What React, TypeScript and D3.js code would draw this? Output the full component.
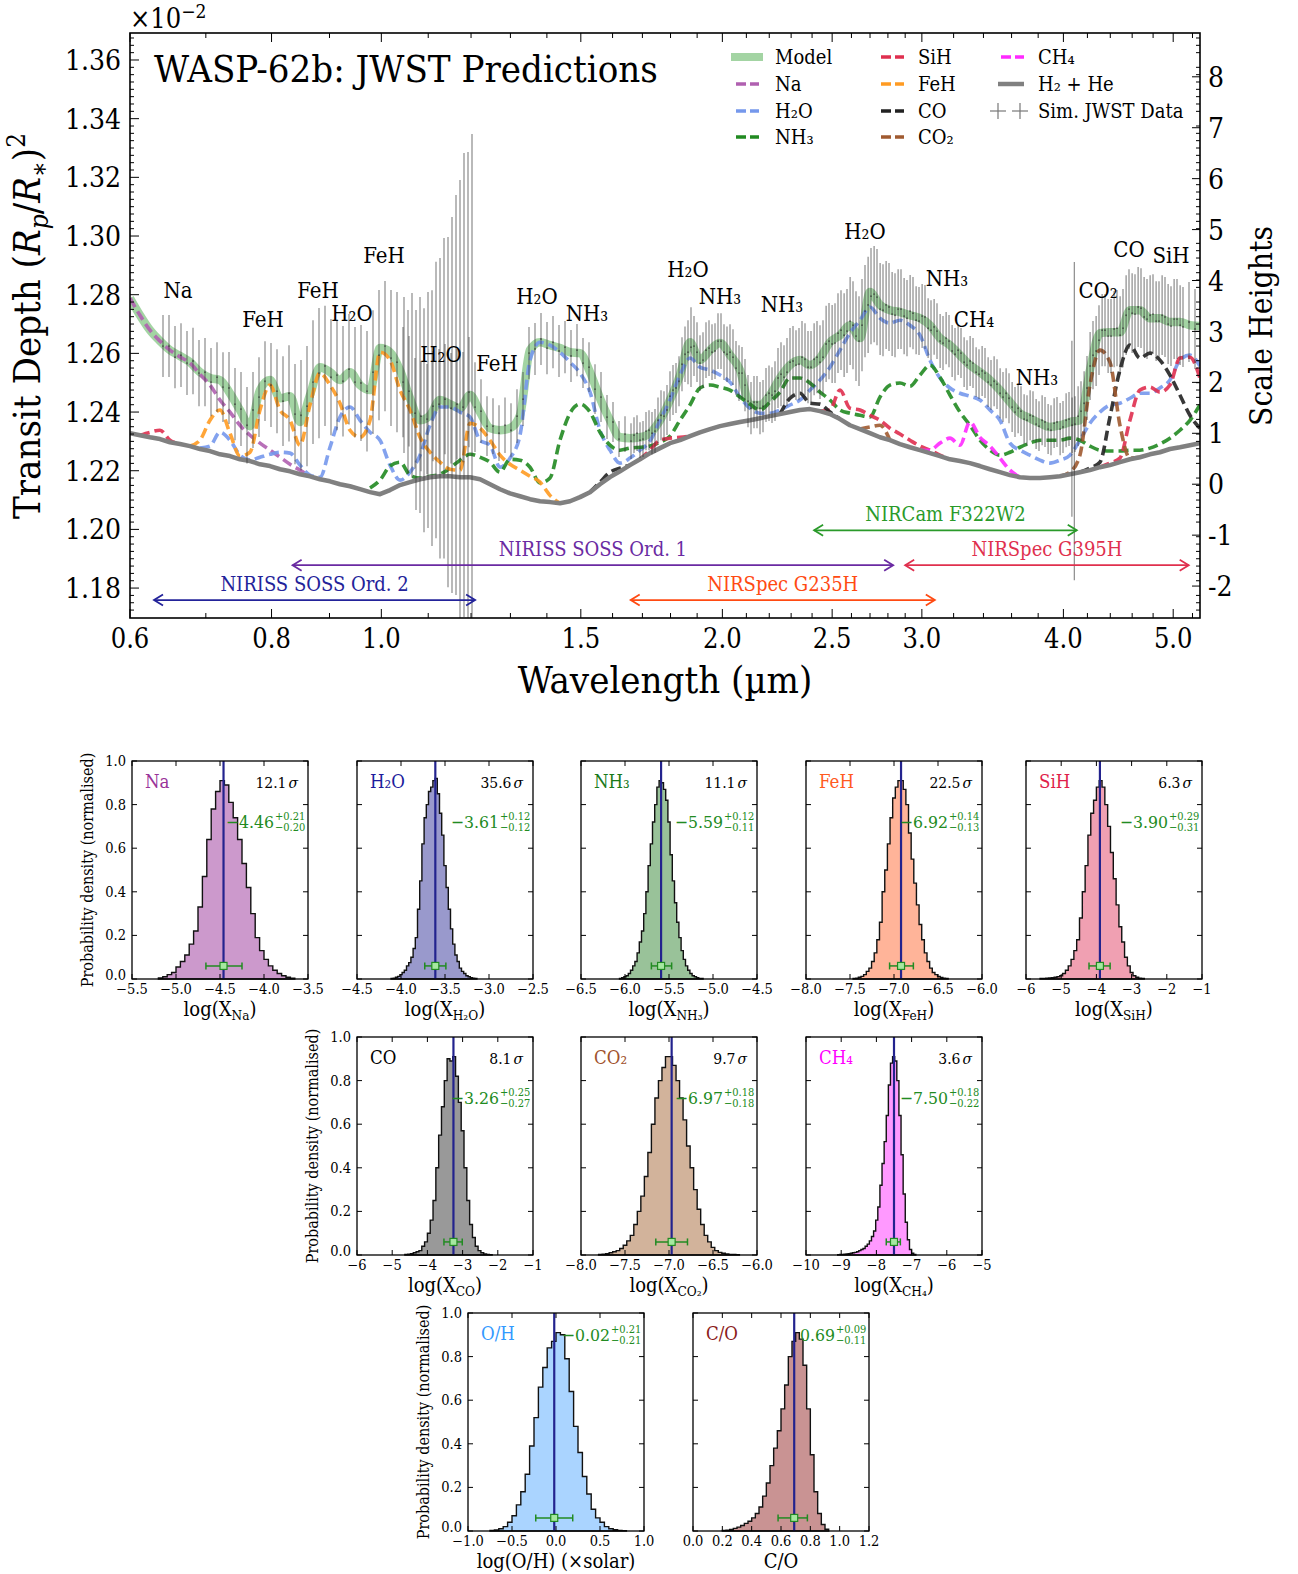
import React from "react";
import * as d3 from "d3";

const FONT = "'DejaVu Serif Condensed', 'DejaVu Serif', serif";
const _ = null;

// ---------- main spectrum: shared wavelength grid (µm) ----------
const wavelength = [
  0.6000,0.6123,0.6249,0.6377,0.6508,0.6642,0.6778,0.6917,0.7059,0.7204,
  0.7352,0.7503,0.7657,0.7814,0.7975,0.8139,0.8306,0.8476,0.8650,0.8828,
  0.9009,0.9194,0.9383,0.9576,0.9773,0.9973,1.0178,1.0387,1.0600,1.0818,
  1.1040,1.1267,1.1498,1.1734,1.1975,1.2221,1.2472,1.2728,1.2989,1.3256,
  1.3528,1.3806,1.4089,1.4378,1.4674,1.4975,1.5282,1.5596,1.5916,1.6243,
  1.6576,1.6917,1.7264,1.7618,1.7980,1.8349,1.8726,1.9110,1.9503,1.9903,
  2.0312,2.0729,2.1154,2.1589,2.2032,2.2484,2.2946,2.3417,2.3898,2.4388,
  2.4889,2.5400,2.5921,2.6453,2.6996,2.7551,2.8116,2.8694,2.9283,2.9884,
  3.0497,3.1124,3.1763,3.2415,3.3080,3.3760,3.4453,3.5160,3.5882,3.6619,
  3.7370,3.8138,3.8921,3.9720,4.0535,4.1367,4.2217,4.3083,4.3968,4.4871,
  4.5792,4.6732,4.7691,4.8670,4.9670,5.0689,5.1730,5.2792,
];

// transit depth (x10^-2)
const depthH2He = [
  1.2328,1.2321,1.2314,1.2308,1.2297,1.2291,1.2284,1.2274,1.2267,1.2256,
  1.2250,1.2239,1.2233,1.2222,1.2216,1.2205,1.2198,1.2188,1.2181,1.2171,
  1.2164,1.2154,1.2147,1.2137,1.2127,1.2120,1.2134,1.2151,1.2161,1.2171,
  1.2178,1.2181,1.2181,1.2178,1.2178,1.2171,1.2154,1.2137,1.2123,1.2113,
  1.2103,1.2096,1.2093,1.2089,1.2096,1.2110,1.2127,1.2154,1.2178,1.2198,
  1.2219,1.2239,1.2260,1.2277,1.2294,1.2304,1.2318,1.2331,1.2342,1.2352,
  1.2359,1.2366,1.2372,1.2379,1.2386,1.2393,1.2400,1.2407,1.2410,1.2403,
  1.2393,1.2376,1.2355,1.2342,1.2328,1.2314,1.2304,1.2291,1.2280,1.2270,
  1.2260,1.2250,1.2239,1.2233,1.2226,1.2216,1.2205,1.2195,1.2185,1.2178,
  1.2175,1.2175,1.2178,1.2181,1.2188,1.2195,1.2202,1.2212,1.2219,1.2229,
  1.2239,1.2246,1.2256,1.2263,1.2274,1.2280,1.2287,1.2294,
];

const depthModel = [
  1.2788,1.2730,1.2679,1.2642,1.2611,1.2591,1.2570,1.2536,1.2516,1.2509,
  1.2464,1.2407,1.2352,1.2475,1.2509,1.2447,1.2454,1.2366,1.2458,1.2553,
  1.2536,1.2509,1.2536,1.2492,1.2475,1.2618,1.2604,1.2543,1.2447,1.2372,
  1.2389,1.2441,1.2427,1.2413,1.2458,1.2400,1.2345,1.2338,1.2345,1.2389,
  1.2611,1.2638,1.2628,1.2618,1.2604,1.2601,1.2536,1.2447,1.2372,1.2314,
  1.2311,1.2314,1.2328,1.2372,1.2441,1.2526,1.2638,1.2577,1.2611,1.2635,
  1.2594,1.2543,1.2424,1.2424,1.2458,1.2516,1.2560,1.2577,1.2560,1.2584,
  1.2638,1.2662,1.2696,1.2652,1.2809,1.2765,1.2747,1.2741,1.2730,1.2720,
  1.2696,1.2652,1.2628,1.2594,1.2560,1.2536,1.2509,1.2475,1.2434,1.2396,
  1.2379,1.2362,1.2349,1.2355,1.2366,1.2372,1.2543,1.2669,1.2672,1.2672,
  1.2747,1.2747,1.2720,1.2720,1.2707,1.2707,1.2696,1.2693,
];

const depthNa = [
  1.2788,1.2730,1.2679,1.2642,1.2611,1.2588,1.2567,1.2529,1.2492,1.2441,
  1.2400,1.2355,1.2321,1.2294,1.2270,1.2246,1.2222,1.2202,1.2181,_,
  _,_,_,_,_,_,_,_,_,_, _,_,_,_,_,_,_,_,_,_, _,_,_,_,_,_,_,_,_,_,
  _,_,_,_,_,_,_,_,_,_, _,_,_,_,_,_,_,_,_,_, _,_,_,_,_,_,_,_,_,_,
  _,_,_,_,_,_,_,_,_,_, _,_,_,_,_,_,_,_,_,_, _,_,_,_,_,_,_,_,
];

const depthFeH = [
  _,_,_,_,_,_,1.2284,1.2304,1.2372,1.2407,
  1.2328,1.2250,1.2263,1.2407,1.2492,1.2407,1.2372,1.2287,1.2424,1.2533,
  1.2492,1.2430,1.2338,1.2314,1.2372,1.2604,1.2577,1.2475,1.2407,1.2314,
  1.2263,1.2229,1.2205,1.2202,1.2362,1.2345,1.2304,1.2253,1.2222,1.2202,
  1.2181,1.2161,1.2116,1.2089,_,_,_,_,_,_,
  _,_,_,_,_,_,_,_,_,_, _,_,_,_,_,_,_,_,_,_, _,_,_,_,_,_,_,_,_,_,
  _,_,_,_,_,_,_,_,_,_, _,_,_,_,_,_,_,_,_,_, _,_,_,_,_,_,_,_,
];

const depthH2O = [
  _,_,_,_,_,_,_,1.2277,1.2284,1.2331,
  1.2304,1.2253,1.2236,1.2246,1.2256,1.2263,1.2260,1.2219,1.2185,1.2178,
  1.2280,1.2383,1.2417,1.2372,1.2331,1.2304,1.2219,1.2168,1.2195,1.2253,
  1.2355,1.2417,1.2417,1.2400,1.2383,1.2304,1.2287,1.2212,1.2243,1.2321,
  1.2577,1.2638,1.2628,1.2604,1.2570,1.2533,1.2468,1.2338,1.2270,1.2226,
  1.2243,1.2270,1.2301,1.2372,1.2441,1.2526,1.2584,1.2553,1.2543,1.2526,
  1.2502,1.2451,1.2413,1.2396,1.2396,1.2407,1.2424,1.2441,1.2475,1.2509,
  1.2553,1.2611,1.2669,1.2713,1.2758,1.2720,1.2703,1.2713,1.2696,1.2662,
  1.2577,1.2516,1.2482,1.2464,1.2454,1.2441,1.2407,1.2372,1.2294,1.2270,
  1.2253,1.2236,1.2226,1.2236,1.2253,1.2304,1.2362,1.2400,1.2424,1.2430,
  1.2447,1.2464,1.2464,1.2482,1.2509,1.2577,1.2594,1.2557,
];

const depthNH3 = [
  _,_,_,_,_,_,_,_,_,_, _,_,_,_,_,_,_,_,_,_,
  _,_,_,_,1.2141,1.2168,1.2216,1.2229,1.2185,1.2175,
  1.2181,1.2188,1.2209,1.2236,1.2256,1.2246,1.2229,1.2195,1.2239,1.2236,
  1.2212,1.2158,1.2175,1.2304,1.2396,1.2427,1.2400,1.2331,1.2287,1.2270,
  1.2277,1.2280,1.2284,1.2297,1.2318,1.2372,1.2424,1.2482,1.2492,1.2485,
  1.2475,1.2451,1.2427,1.2407,1.2434,1.2468,1.2516,1.2516,1.2499,1.2468,
  1.2441,1.2407,1.2396,1.2389,1.2383,1.2451,1.2492,1.2499,1.2488,1.2526,
  1.2560,1.2519,1.2458,1.2400,1.2355,1.2304,1.2270,1.2253,1.2263,1.2280,
  1.2294,1.2304,1.2304,1.2304,1.2311,1.2304,1.2284,1.2270,1.2267,1.2267,
  1.2270,1.2270,1.2277,1.2291,1.2311,1.2338,1.2372,1.2424,
];

const depthSiH = [
  _,1.2321,1.2331,1.2338,1.2304,1.2291,_,_,_,_,
  _,_,_,_,_,_,_,_,_,_, _,_,_,_,_,_,_,_,_,_, _,_,_,_,_,_,_,_,_,_, _,_,_,_,_,_,_,_,_,_,
  _,1.2239,1.2270,1.2304,1.2311,1.2314,1.2318,_,_,_,
  _,_,_,_,_,_,_,_,_,1.2403,
  1.2407,1.2475,1.2413,1.2407,1.2389,1.2372,1.2345,1.2325,1.2304,1.2284,
  1.2270,1.2253,1.2239,_,_,_,_,_,_,_,
  _,_,_,_,_,_,_,1.2212,1.2226,1.2243,
  1.2372,1.2475,1.2485,1.2468,1.2492,1.2584,1.2587,1.2516,
];

const depthCO = [
  _,_,_,_,_,_,_,_,_,_, _,_,_,_,_,_,_,_,_,_, _,_,_,_,_,_,_,_,_,_, _,_,_,_,_,_,_,_,_,_,
  _,_,_,_,_,_,1.2127,1.2161,1.2195,1.2209,
  1.2219,_,_,_,_,_,_,_,_,_,
  _,_,_,_,_,1.2393,1.2447,1.2464,1.2430,1.2427,
  1.2400,1.2376,_,_,_,_,_,_,_,_,
  _,_,_,_,_,_,_,_,_,_,
  _,_,_,_,_,1.2195,1.2209,1.2229,1.2383,1.2543,
  1.2628,1.2584,1.2601,1.2577,1.2526,1.2458,1.2389,1.2345,
];

const depthCO2 = [
  _,_,_,_,_,_,_,_,_,_, _,_,_,_,_,_,_,_,_,_, _,_,_,_,_,_,_,_,_,_, _,_,_,_,_,_,_,_,_,_,
  _,_,_,_,_,_,_,_,_,_, _,_,_,_,_,_,_,_,_,_, _,_,_,_,_,_,_,_,_,_,
  _,_,_,1.2342,1.2349,1.2355,1.2304,_,_,_,
  _,_,_,_,_,_,_,_,_,_,
  _,_,_,1.2181,1.2195,1.2253,1.2492,1.2611,1.2570,1.2355,
  1.2243,1.2246,_,_,_,_,_,_,
];

const depthCH4 = [
  _,_,_,_,_,_,_,_,_,_, _,_,_,_,_,_,_,_,_,_, _,_,_,_,_,_,_,_,_,_, _,_,_,_,_,_,_,_,_,_,
  _,_,_,_,_,_,_,_,_,_, _,_,_,_,_,_,_,_,_,_, _,_,_,_,_,_,_,_,_,_,
  _,_,_,_,_,_,_,_,_,1.2270,
  1.2270,1.2294,1.2311,1.2287,1.2366,1.2314,1.2284,1.2243,1.2202,1.2178,
  _,_,_,_,_,_,_,_,_,_, _,_,_,_,_,_,_,_,
];

// ---------- simulated JWST data ----------
const dataWl = [
  0.6416,0.6495,0.6575,0.6655,0.6737,0.6820,0.6903,0.6988,0.7074,0.7161,
  0.7248,0.7337,0.7427,0.7518,0.7611,0.7704,0.7799,0.7894,0.7991,0.8089,
  0.8189,0.8289,0.8391,0.8494,0.8598,0.8703,0.8810,0.8918,0.9028,0.9138,
  0.9250,0.9364,0.9479,0.9595,0.9713,0.9832,0.9953,1.0075,1.0199,1.0324,
  1.0451,1.0579,1.0709,1.0840,1.0973,1.1108,1.1244,1.1382,1.1522,1.1663,
  1.1806,1.1951,1.2098,1.2246,1.2396,1.2548,1.2702,1.2858,1.3016,1.3176,
  1.3337,1.3501,1.3667,1.3834,1.4004,1.4176,1.4350,1.4526,1.4704,1.4884,
  1.5067,1.5252,1.5439,1.5628,1.5820,1.6014,1.6211,1.6410,1.6611,1.6815,
  1.7021,1.7230,1.7441,1.7655,1.7872,1.8091,1.8313,1.8538,1.8765,1.8996,
  1.9229,1.9465,1.9704,1.9945,2.0190,2.0438,2.0689,2.0942,2.1199,2.1459,
  2.1723,2.1989,2.2259,2.2532,2.2809,2.3088,2.3372,2.3658,2.3949,2.4243,
  2.4540,2.4841,2.5146,2.5455,2.5767,2.6083,2.6403,2.6727,2.7055,2.7387,
  2.7723,2.8063,2.8407,2.8756,2.9108,2.9466,2.9827,3.0193,3.0564,3.0939,
  3.1318,3.1702,3.2091,3.2485,3.2884,3.3287,3.3696,3.4109,3.4528,3.4951,
  3.5380,3.5814,3.6254,3.6698,3.7149,3.7605,3.8066,3.8533,3.9006,3.9484,
  3.9969,4.0459,4.0955,4.1458,4.1967,4.2482,4.3003,4.3530,4.4065,4.4605,
  4.5153,4.5707,4.6267,4.6835,4.7410,4.7991,4.8580,4.9176,4.9780,5.0390,
  5.1009,5.1635,5.2268,
];
const dataDepth = [
  1.2625,1.2625,1.2587,1.2594,1.2567,1.2574,1.2533,1.2536,1.2502,1.2519,
  1.2485,1.2482,1.2427,1.2410,1.2355,1.2407,1.2451,1.2505,1.2492,1.2471,
  1.2437,1.2464,1.2393,1.2389,1.2420,1.2502,1.2533,1.2557,1.2519,1.2526,
  1.2505,1.2546,1.2502,1.2499,1.2471,1.2536,1.2594,1.2625,1.2584,1.2570,
  1.2502,1.2471,1.2396,1.2386,1.2376,1.2420,1.2427,1.2444,1.2413,1.2427,
  1.2417,1.2468,1.2417,1.2403,1.2352,1.2352,1.2328,1.2355,1.2338,1.2386,
  1.2444,1.2601,1.2615,1.2649,1.2618,1.2638,1.2608,1.2621,1.2591,1.2611,
  1.2567,1.2553,1.2478,1.2451,1.2383,1.2366,1.2308,1.2325,1.2301,1.2328,
  1.2308,1.2338,1.2335,1.2389,1.2407,1.2475,1.2505,1.2597,1.2621,1.2604,
  1.2577,1.2618,1.2608,1.2642,1.2597,1.2587,1.2533,1.2492,1.2413,1.2434,
  1.2420,1.2464,1.2471,1.2529,1.2536,1.2574,1.2563,1.2580,1.2553,1.2587,
  1.2587,1.2642,1.2635,1.2679,1.2676,1.2696,1.2642,1.2744,1.2795,1.2792,
  1.2747,1.2758,1.2730,1.2751,1.2720,1.2737,1.2710,1.2724,1.2679,1.2676,
  1.2635,1.2642,1.2597,1.2601,1.2560,1.2567,1.2529,1.2533,1.2492,1.2495,
  1.2451,1.2447,1.2400,1.2403,1.2372,1.2386,1.2352,1.2366,1.2338,1.2366,
  1.2349,1.2376,1.2359,1.2403,1.2482,1.2594,1.2645,1.2679,1.2659,1.2686,
  1.2686,1.2751,1.2734,1.2754,1.2717,1.2734,1.2710,1.2724,1.2693,1.2717,
  1.2690,1.2707,1.2683,
];
const dataErr = [
  0.0106,0.0106,0.0106,0.0109,0.0109,0.0113,0.0113,0.0116,0.0116,0.0119,
  0.0119,0.0123,0.0123,0.0126,0.0130,0.0130,0.0136,0.0136,0.0143,0.0143,
  0.0153,0.0164,0.0171,0.0188,0.0205,0.0211,0.0222,0.0205,0.0198,0.0188,
  0.0188,0.0188,0.0188,0.0198,0.0205,0.0211,0.0222,0.0222,0.0232,0.0239,
  0.0188,0.0188,0.0188,0.0188,0.0188,0.0188,0.0188,0.0188,0.0188,0.0188,
  0.0188,0.0188,0.0153,0.0109,0.0102,0.0095,0.0095,0.0095,0.0092,0.0092,
  0.0092,0.0089,0.0089,0.0089,0.0089,0.0089,0.0089,0.0089,0.0089,0.0089,
  0.0085,0.0085,0.0085,0.0085,0.0075,0.0068,0.0061,0.0061,0.0061,0.0061,
  0.0061,0.0068,0.0075,0.0085,0.0085,0.0085,0.0085,0.0095,0.0136,0.0102,
  0.0095,0.0095,0.0095,0.0095,0.0095,0.0095,0.0095,0.0089,0.0089,0.0089,
  0.0089,0.0095,0.0102,0.0109,0.0116,0.0119,0.0123,0.0123,0.0123,0.0123,
  0.0126,0.0130,0.0136,0.0136,0.0143,0.0150,0.0153,0.0157,0.0164,0.0164,
  0.0157,0.0150,0.0143,0.0136,0.0130,0.0123,0.0116,0.0109,0.0102,0.0095,
  0.0092,0.0089,0.0089,0.0085,0.0085,0.0085,0.0085,0.0085,0.0085,0.0085,
  0.0085,0.0085,0.0085,0.0085,0.0085,0.0085,0.0085,0.0085,0.0085,0.0085,
  0.0089,0.0092,0.0095,0.0102,0.0109,0.0116,0.0119,0.0123,0.0126,0.0130,
  0.0133,0.0136,0.0136,0.0136,0.0136,0.0136,0.0136,0.0136,0.0136,0.0136,
  0.0136,0.0136,0.0136,
];
// NIRSpec points (overlapping instruments, 1.67–5.07 µm)
const nirspecWl = [
  1.6712,1.6917,1.7125,1.7335,1.7548,1.7763,1.7981,1.8202,1.8425,1.8651,
  1.8880,1.9112,1.9346,1.9584,1.9824,2.0067,2.0314,2.0563,2.0815,2.1071,
  2.1329,2.1591,2.1856,2.2124,2.2396,2.2671,2.2949,2.3231,2.3516,2.3804,
  2.4097,2.4392,2.4692,2.4995,2.5301,2.5612,2.5926,2.6244,2.6566,2.6893,
  2.7223,2.7557,2.7895,2.8237,2.8584,2.8935,2.9290,2.9649,3.0013,3.0381,
  3.0754,3.1131,3.1513,3.1900,3.2291,3.2688,3.3089,3.3495,3.3906,3.4322,
  3.4743,3.5169,3.5601,3.6038,3.6480,3.6928,3.7381,3.7840,3.8304,3.8774,
  3.9250,3.9732,4.0219,4.0713,4.1212,4.1718,4.2230,4.2748,4.3273,4.3804,
  4.4341,4.4885,4.5436,4.5994,4.6558,4.7129,4.7708,4.8293,4.8886,4.9486,
  5.0093,5.0708,
];
const nirspecDepth = [
  1.2321,1.2304,1.2335,1.2328,1.2372,1.2386,1.2454,1.2482,1.2563,1.2604,
  1.2625,1.2567,1.2611,1.2604,1.2642,1.2604,1.2604,1.2550,1.2533,1.2437,
  1.2434,1.2413,1.2458,1.2458,1.2516,1.2519,1.2570,1.2560,1.2587,1.2553,
  1.2580,1.2570,1.2632,1.2632,1.2669,1.2662,1.2710,1.2659,1.2696,1.2765,
  1.2802,1.2751,1.2765,1.2734,1.2751,1.2727,1.2744,1.2713,1.2727,1.2686,
  1.2690,1.2642,1.2652,1.2608,1.2611,1.2570,1.2574,1.2536,1.2540,1.2502,
  1.2505,1.2464,1.2464,1.2417,1.2413,1.2376,1.2389,1.2359,1.2372,1.2342,
  1.2362,1.2342,1.2372,1.2355,1.2386,1.2430,1.2557,1.2608,1.2679,1.2659,
  1.2683,1.2662,1.2730,1.2737,1.2758,1.2724,1.2730,1.2710,1.2730,1.2700,
  1.2717,1.2696,
];
const nirspecErr = [
  0.0061,0.0061,0.0065,0.0072,0.0078,0.0085,0.0085,0.0085,0.0092,0.0109,
  0.0102,0.0095,0.0095,0.0095,0.0095,0.0095,0.0095,0.0092,0.0089,0.0089,
  0.0089,0.0089,0.0092,0.0095,0.0102,0.0109,0.0116,0.0119,0.0123,0.0123,
  0.0123,0.0126,0.0130,0.0133,0.0136,0.0143,0.0150,0.0153,0.0157,0.0164,
  0.0164,0.0157,0.0150,0.0143,0.0136,0.0130,0.0123,0.0116,0.0109,0.0102,
  0.0095,0.0092,0.0089,0.0089,0.0085,0.0085,0.0085,0.0085,0.0085,0.0085,
  0.0085,0.0085,0.0085,0.0085,0.0085,0.0085,0.0085,0.0085,0.0085,0.0085,
  0.0085,0.0089,0.0092,0.0095,0.0102,0.0109,0.0116,0.0119,0.0123,0.0126,
  0.0130,0.0133,0.0136,0.0136,0.0136,0.0136,0.0136,0.0136,0.0136,0.0136,
  0.0136,0.0136,
];
// NIRISS order-2 red end (large uncertainties)
const ord2Wl = [1.0472,1.0557,1.0643,1.0730,1.0818,1.0906,1.0995,1.1085,1.1176,1.1267,1.1359,1.1451,1.1545,1.1639,1.1734,1.1830,1.1926,1.2024];
const ord2Depth = [1.2526,1.2468,1.2492,1.2407,1.2424,1.2372,1.2407,1.2379,1.2441,1.2413,1.2447,1.2400,1.2424,1.2458,1.2434,1.2492,1.2468,1.2516];
const ord2Err = [0.0266,0.0280,0.0314,0.0341,0.0368,0.0382,0.0402,0.0436,0.0471,0.0512,0.0546,0.0597,0.0641,0.0682,0.0757,0.0791,0.0818,0.0832];
// detector-edge points near 4.1 µm
const edgeWl = [4.07, 4.09];
const edgeDepth = [1.2343, 1.2369];
const edgeErr = [0.0300, 0.0542];

// ---------- annotations ----------
const featureText = ["Na","FeH","FeH","H₂O","FeH","H₂O","FeH","H₂O","NH₃","H₂O","NH₃","NH₃","H₂O","NH₃","CH₄","NH₃","CO₂","CO","SiH"];
const featureWl = [0.6615,0.7862,0.8793,0.9422,1.0054,1.1290,1.2650,1.3722,1.5190,1.8652,1.9905,2.2578,2.6726,3.1574,3.3355,3.7912,4.2917,4.5707,4.9781];
const featureDepth = [1.2816,1.2717,1.2816,1.2737,1.2935,1.2598,1.2567,1.2795,1.2737,1.2887,1.2795,1.2768,1.3017,1.2857,1.2717,1.2519,1.2816,1.2956,1.2935];

const instNames = ["NIRISS SOSS Ord. 2","NIRISS SOSS Ord. 1","NIRSpec G235H","NIRCam F322W2","NIRSpec G395H"];
const instFrom = [0.63, 0.835, 1.66, 2.41, 2.90];
const instTo = [1.21, 2.83, 3.08, 4.11, 5.16];
const instDepth = [1.1759, 1.1878, 1.1759, 1.1997, 1.1878];

const xMajor = [0.6,0.8,1.0,1.5,2.0,2.5,3.0,4.0,5.0];
const xMinor = [0.7,0.9,1.1,1.2,1.3,1.4,1.6,1.7,1.8,1.9,2.1,2.2,2.3,2.4,2.6,2.7,2.8,2.9,3.2,3.4,3.6,3.8,4.2,4.4,4.6,4.8,5.2];
const yMajor = [1.18,1.20,1.22,1.24,1.26,1.28,1.30,1.32,1.34,1.36];
const shMajor = [-2,-1,0,1,2,3,4,5,6,7,8];

// ---------- retrieved posteriors (normalised histograms) ----------
const naStart = -5.20, naBin = 0.05;
const naHeights = [0.005,0.01,0.02,0.03,0.055,0.08,0.11,0.16,0.22,0.33,0.47,0.64,0.78,0.86,0.91,0.89,0.81,0.74,0.64,0.53,0.42,0.30,0.19,0.13,0.09,0.06,0.04,0.025,0.015,0.008,0.004];
const h2oStart = -4.1125, h2oBin = 0.025;
const h2oHeights = [0.002,0.004,0.008,0.012,0.02,0.03,0.04,0.06,0.075,0.10,0.14,0.19,0.32,0.45,0.62,0.74,0.80,0.86,0.88,0.91,0.92,0.85,0.76,0.66,0.52,0.42,0.32,0.23,0.16,0.11,0.08,0.05,0.035,0.025,0.015,0.01,0.006,0.004,0.002];
const nh3Start = -6.0625, nh3Bin = 0.025;
const nh3Heights = [0.003,0.006,0.01,0.015,0.025,0.04,0.06,0.08,0.12,0.17,0.22,0.30,0.40,0.52,0.62,0.72,0.80,0.88,0.91,0.90,0.87,0.82,0.72,0.57,0.45,0.35,0.26,0.19,0.13,0.09,0.06,0.04,0.025,0.015,0.01,0.006,0.003,0.002];
const fehStart = -7.465, fehBin = 0.03;
const fehHeights = [0.002,0.004,0.008,0.012,0.02,0.035,0.05,0.08,0.12,0.18,0.26,0.40,0.50,0.62,0.74,0.83,0.88,0.91,0.91,0.87,0.80,0.67,0.55,0.44,0.34,0.25,0.18,0.12,0.08,0.05,0.03,0.02,0.012,0.007,0.004,0.002];
const sihStart = -5.60, sihBin = 0.08;
const sihHeights = [0.002,0.003,0.004,0.005,0.006,0.008,0.01,0.015,0.025,0.04,0.06,0.09,0.13,0.18,0.28,0.40,0.52,0.66,0.76,0.82,0.88,0.91,0.88,0.80,0.70,0.58,0.46,0.34,0.24,0.17,0.10,0.06,0.03,0.015,0.008,0.004,0.002];
const coStart = -4.64, coBin = 0.08;
const coHeights = [0.002,0.004,0.006,0.01,0.015,0.02,0.04,0.06,0.10,0.16,0.25,0.40,0.55,0.68,0.80,0.90,0.89,0.91,0.82,0.70,0.57,0.40,0.25,0.14,0.08,0.04,0.02,0.01,0.005,0.003,0.001];
const co2Start = -7.80, co2Bin = 0.04;
const co2Heights = [0.002,0.004,0.006,0.01,0.015,0.02,0.03,0.045,0.065,0.09,0.14,0.20,0.27,0.36,0.47,0.60,0.72,0.80,0.86,0.91,0.91,0.87,0.80,0.72,0.62,0.50,0.40,0.30,0.21,0.14,0.09,0.06,0.035,0.02,0.012,0.008,0.005,0.003,0.002,0.001];
const ch4Start = -9.10, ch4Bin = 0.06;
const ch4Heights = [0.001,0.002,0.003,0.004,0.005,0.006,0.008,0.01,0.012,0.015,0.02,0.025,0.03,0.04,0.05,0.065,0.085,0.11,0.16,0.22,0.32,0.42,0.52,0.64,0.78,0.88,0.91,0.89,0.80,0.64,0.46,0.28,0.15,0.07,0.025,0.008,0.002];
const ohStart = -0.75, ohBin = 0.05;
const ohHeights = [0.003,0.005,0.01,0.02,0.04,0.07,0.12,0.18,0.26,0.39,0.52,0.66,0.75,0.84,0.87,0.91,0.90,0.79,0.64,0.48,0.36,0.25,0.17,0.10,0.06,0.04,0.02,0.01,0.006,0.003,0.001];
const coRatioStart = 0.20, coRatioBin = 0.025;
const coRatioHeights = [0.002,0.004,0.007,0.012,0.018,0.025,0.035,0.045,0.06,0.08,0.11,0.16,0.22,0.30,0.38,0.46,0.56,0.67,0.80,0.87,0.91,0.88,0.76,0.56,0.35,0.18,0.08,0.03,0.008];

const medians = [-4.46,-3.61,-5.59,-6.92,-3.90,-3.26,-6.97,-7.50,-0.02,0.69];
const errUp = [0.21,0.12,0.12,0.14,0.29,0.25,0.18,0.18,0.21,0.09];
const errLo = [0.20,0.12,0.11,0.13,0.31,0.27,0.18,0.22,0.21,0.11];
const sigmas = ["12.1","35.6","11.1","22.5","6.3","8.1","9.7","3.6",null,null];

const f2 = d3.format(".2f");

function HistPanel({ p }: any) {
  const W = 176, H = 218;
  const x = d3.scaleLinear().domain(p.domain).range([p.left, p.left + W]);
  const y = d3.scaleLinear().domain([0, 1]).range([p.top + H, p.top]);
  let d = `M${x(p.start)},${y(0)}`;
  p.heights.forEach((h: number, i: number) => {
    d += `L${x(p.start + i * p.bin)},${y(h)}L${x(p.start + (i + 1) * p.bin)},${y(h)}`;
  });
  d += `L${x(p.start + p.heights.length * p.bin)},${y(0)}Z`;
  const fmt = d3.format(p.fmt);
  const yTicks = [0, 0.2, 0.4, 0.6, 0.8, 1.0];
  const right = p.left + W;
  const bottom = p.top + H;
  const top = p.top;
  const valY = p.sigma ? top + 67 : top + 28;
  const my = y(0.06);
  return (
    <g>
      <path d={d} fill={p.fill} stroke="#111" strokeWidth={1.4} />
      <line x1={x(p.median)} x2={x(p.median)} y1={bottom} y2={top} stroke="#23238e" strokeWidth={2.2} />
      <line x1={x(p.median - p.lo)} x2={x(p.median + p.up)} y1={my} y2={my} stroke="#228b22" strokeWidth={1.5} />
      <line x1={x(p.median - p.lo)} x2={x(p.median - p.lo)} y1={my - 3.5} y2={my + 3.5} stroke="#228b22" strokeWidth={1.5} />
      <line x1={x(p.median + p.up)} x2={x(p.median + p.up)} y1={my - 3.5} y2={my + 3.5} stroke="#228b22" strokeWidth={1.5} />
      <rect x={x(p.median) - 3.5} y={my - 3.5} width={7} height={7} fill="#a6e8a0" stroke="#228b22" strokeWidth={1.2} />
      <rect x={p.left} y={top} width={W} height={H} fill="none" stroke="#000" strokeWidth={1.3} />
      {p.ticks.map((t: number) => (
        <g key={"xt" + t}>
          <line x1={x(t)} x2={x(t)} y1={bottom} y2={bottom - 5} stroke="#000" strokeWidth={1} />
          <line x1={x(t)} x2={x(t)} y1={top} y2={top + 5} stroke="#000" strokeWidth={1} />
          <text x={x(t)} y={bottom + 15} fontSize={14.5} textAnchor="middle">{fmt(t)}</text>
        </g>
      ))}
      {yTicks.map((t) => (
        <g key={"yt" + t}>
          <line x1={p.left} x2={p.left + 5} y1={y(t)} y2={y(t)} stroke="#000" strokeWidth={1} />
          <line x1={right} x2={right - 5} y1={y(t)} y2={y(t)} stroke="#000" strokeWidth={1} />
          {p.showY && <text x={p.left - 6} y={y(t) - (t === 0 ? 4 : 0)} dy="0.35em" fontSize={14.5} textAnchor="end">{d3.format(".1f")(t)}</text>}
        </g>
      ))}
      {p.showY && (
        <text transform={`translate(${p.left - 39},${top + H / 2}) rotate(-90)`} fontSize={16} textAnchor="middle">
          Probability density (normalised)
        </text>
      )}
      <text x={p.left + W / 2} y={bottom + 37} fontSize={20} textAnchor="middle">
        {p.xlabelPre}
        {p.xsub && <tspan fontSize={13.5} dy={4}>{p.xsub}</tspan>}
        {p.xsub ? <tspan dy={-4}>{p.xlabelPost}</tspan> : p.xlabelPost}
      </text>
      <text x={p.left + 13} y={top + 27} fontSize={18.5} fill={p.labelColor}>{p.label}</text>
      {p.sigma && (
        <text x={right - 10} y={top + 27} fontSize={15.5} textAnchor="end">
          {p.sigma}
          <tspan fontStyle="italic" dx={2}>σ</tspan>
        </text>
      )}
      <text x={right - 34} y={valY} fontSize={17.5} textAnchor="end" fill="#228b22">{f2(p.median)}</text>
      <text x={right - 33} y={valY - 8} fontSize={11} fill="#228b22">{"+" + f2(p.up)}</text>
      <text x={right - 33} y={valY + 3} fontSize={11} fill="#228b22">{f2(-p.lo)}</text>
    </g>
  );
}

export default function App() {
  const L = 130, R = 1200, T = 33, B = 618;
  const x = d3.scaleLog().domain([0.6, 5.28]).range([L, R]);
  const y = d3.scaleLinear().domain([1.1698, 1.3692]).range([B, T]);
  const ySH = d3.scaleLinear().domain([-2.627, 8.86]).range([B, T]);

  const curve = (arr: (number | null)[], smooth = true) =>
    d3.line<number | null>()
      .defined((v) => v != null)
      .x((_v, i) => x(wavelength[i]))
      .y((v) => y(v as number))
      .curve(smooth ? d3.curveMonotoneX : d3.curveLinear)(arr) || "";

  const errPath = (wl: number[], dep: number[], err: number[]) =>
    wl.map((w, i) => `M${x(w).toFixed(1)},${y(dep[i] - err[i]).toFixed(1)}V${y(dep[i] + err[i]).toFixed(1)}`).join("");

  const species = [
    { name: "Na", data: depthNa, color: "#b060b0" },
    { name: "H2O", data: depthH2O, color: "#7598ec" },
    { name: "NH3", data: depthNH3, color: "#218a21" },
    { name: "SiH", data: depthSiH, color: "#df2f4f" },
    { name: "FeH", data: depthFeH, color: "#ff9b22" },
    { name: "CO", data: depthCO, color: "#222222" },
    { name: "CO2", data: depthCO2, color: "#a05a30" },
    { name: "CH4", data: depthCH4, color: "#ff2aff" },
  ];
  const dash = "10,5";

  const yMinor = d3.range(1.1725, 1.3692, 0.0025).filter((v) => Math.abs(((v + 1e-6) * 100) % 2) > 0.05);

  const instColors = ["#23239a", "#6a2aa2", "#ff4a12", "#2a9a2a", "#e0304e"];

  const legendRows = [57, 84, 111, 137];
  const legend = [
    { col: 0, row: 0, label: "Model", kind: "model" },
    { col: 0, row: 1, label: "Na", kind: "dash", color: "#b060b0" },
    { col: 0, row: 2, label: "H₂O", kind: "dash", color: "#7598ec" },
    { col: 0, row: 3, label: "NH₃", kind: "dash", color: "#218a21" },
    { col: 1, row: 0, label: "SiH", kind: "dash", color: "#df2f4f" },
    { col: 1, row: 1, label: "FeH", kind: "dash", color: "#ff9b22" },
    { col: 1, row: 2, label: "CO", kind: "dash", color: "#222222" },
    { col: 1, row: 3, label: "CO₂", kind: "dash", color: "#a05a30" },
    { col: 2, row: 0, label: "CH₄", kind: "dash", color: "#ff2aff" },
    { col: 2, row: 1, label: "H₂ + He", kind: "solid" },
    { col: 2, row: 2, label: "Sim. JWST Data", kind: "data" },
  ];
  const legendCols = [{ hx: 733, tx: 775 }, { hx: 878, tx: 918 }, { hx: 998, tx: 1038 }];

  const panelBase = [
    { label: "Na", labelColor: "#993399", fill: "#cc99cc", left: 132, top: 761, domain: [-5.5, -3.5], ticks: [-5.5, -5, -4.5, -4, -3.5], fmt: ".1f", start: naStart, bin: naBin, heights: naHeights, xsub: "Na", showY: true },
    { label: "H₂O", labelColor: "#1c1c9c", fill: "#9999cc", left: 357, top: 761, domain: [-4.5, -2.5], ticks: [-4.5, -4, -3.5, -3, -2.5], fmt: ".1f", start: h2oStart, bin: h2oBin, heights: h2oHeights, xsub: "H₂O" },
    { label: "NH₃", labelColor: "#1a7a1a", fill: "#99c299", left: 581, top: 761, domain: [-6.5, -4.5], ticks: [-6.5, -6, -5.5, -5, -4.5], fmt: ".1f", start: nh3Start, bin: nh3Bin, heights: nh3Heights, xsub: "NH₃" },
    { label: "FeH", labelColor: "#ff5a1f", fill: "#ffb499", left: 806, top: 761, domain: [-8, -6], ticks: [-8, -7.5, -7, -6.5, -6], fmt: ".1f", start: fehStart, bin: fehBin, heights: fehHeights, xsub: "FeH" },
    { label: "SiH", labelColor: "#e01e4a", fill: "#f0a0b2", left: 1026, top: 761, domain: [-6, -1], ticks: [-6, -5, -4, -3, -2, -1], fmt: "d", start: sihStart, bin: sihBin, heights: sihHeights, xsub: "SiH" },
    { label: "CO", labelColor: "#000000", fill: "#999999", left: 357, top: 1037, domain: [-6, -1], ticks: [-6, -5, -4, -3, -2, -1], fmt: "d", start: coStart, bin: coBin, heights: coHeights, xsub: "CO", showY: true },
    { label: "CO₂", labelColor: "#a0522d", fill: "#d2b39b", left: 581, top: 1037, domain: [-8, -6], ticks: [-8, -7.5, -7, -6.5, -6], fmt: ".1f", start: co2Start, bin: co2Bin, heights: co2Heights, xsub: "CO₂" },
    { label: "CH₄", labelColor: "#ff00ff", fill: "#ff99ff", left: 806, top: 1037, domain: [-10, -5], ticks: [-10, -9, -8, -7, -6, -5], fmt: "d", start: ch4Start, bin: ch4Bin, heights: ch4Heights, xsub: "CH₄" },
    { label: "O/H", labelColor: "#3399ff", fill: "#aad4ff", left: 468, top: 1313, domain: [-1, 1], ticks: [-1, -0.5, 0, 0.5, 1], fmt: ".1f", start: ohStart, bin: ohBin, heights: ohHeights, xlabelPre: "log(O/H) (×solar)", showY: true },
    { label: "C/O", labelColor: "#8b1a1a", fill: "#c99393", left: 693, top: 1313, domain: [0, 1.2], ticks: [0, 0.2, 0.4, 0.6, 0.8, 1.0, 1.2], fmt: ".1f", start: coRatioStart, bin: coRatioBin, heights: coRatioHeights, xlabelPre: "C/O" },
  ];
  const panels = panelBase.map((p: any, i) => ({
    ...p,
    median: medians[i],
    up: errUp[i],
    lo: errLo[i],
    sigma: sigmas[i],
    xlabelPre: p.xlabelPre ?? "log(X",
    xlabelPost: p.xsub ? ")" : "",
  }));

  return (
    <svg width={1298} height={1574} style={{ position: "absolute", left: 0, top: 0, display: "block", background: "#fff" }} fontFamily={FONT}>
      <defs>
        <clipPath id="plotclip">
          <rect x={L} y={T} width={R - L} height={B - T} />
        </clipPath>
      </defs>
      <rect x={0} y={0} width={1298} height={1574} fill="#fff" />

      {/* ---------------- main spectrum ---------------- */}
      <g clipPath="url(#plotclip)">
        <path d={curve(depthModel)} fill="none" stroke="#48aa48" strokeOpacity={0.5} strokeWidth={8.5} strokeLinejoin="round" />
        {species.map((s) => (
          <path key={s.name} d={curve(s.data)} fill="none" stroke={s.color} strokeWidth={3.6} strokeDasharray={dash} strokeOpacity={0.9} />
        ))}
        <path d={curve(depthH2He, false)} fill="none" stroke="#808080" strokeWidth={4.5} strokeLinejoin="round" />
        <g stroke="#333" strokeOpacity={0.62} strokeWidth={1.1} fill="none">
          <path d={errPath(dataWl, dataDepth, dataErr)} />
          <path d={errPath(nirspecWl, nirspecDepth, nirspecErr)} />
          <path d={errPath(ord2Wl, ord2Depth, ord2Err)} />
          <path d={errPath(edgeWl, edgeDepth, edgeErr)} />
        </g>
        {dataWl.map((w, i) => (
          <circle key={"d" + i} cx={x(w)} cy={y(dataDepth[i])} r={0.9} fill="#222" fillOpacity={0.6} />
        ))}
        {nirspecWl.map((w, i) => (
          <circle key={"n" + i} cx={x(w)} cy={y(nirspecDepth[i])} r={0.9} fill="#222" fillOpacity={0.6} />
        ))}
      </g>

      {/* feature labels */}
      {featureText.map((t, i) => (
        <text key={"f" + i} x={x(featureWl[i])} y={y(featureDepth[i])} dy="0.35em" fontSize={22} textAnchor="middle">{t}</text>
      ))}

      {/* instrument ranges */}
      {instNames.map((n, i) => {
        const x1 = x(instFrom[i]), x2 = x(instTo[i]), yy = y(instDepth[i]);
        const xm = x(Math.sqrt(instFrom[i] * instTo[i]));
        return (
          <g key={n} stroke={instColors[i]} fill="none" strokeWidth={1.8}>
            <line x1={x1} x2={x2} y1={yy} y2={yy} />
            <path d={`M${x1 + 9},${yy - 5.5}L${x1},${yy}L${x1 + 9},${yy + 5.5}`} />
            <path d={`M${x2 - 9},${yy - 5.5}L${x2},${yy}L${x2 - 9},${yy + 5.5}`} />
            <text x={xm} y={yy - 9} fontSize={20} textAnchor="middle" fill={instColors[i]} stroke="none">{n}</text>
          </g>
        );
      })}

      {/* legend */}
      {legend.map((e, i) => {
        const c = legendCols[e.col];
        const yy = legendRows[e.row];
        let handle: any = null;
        if (e.kind === "model") handle = <line x1={c.hx - 2} x2={c.hx + 30} y1={yy} y2={yy} stroke="#48aa48" strokeOpacity={0.5} strokeWidth={8} />;
        else if (e.kind === "dash") handle = <line x1={c.hx + 3} x2={c.hx + 26} y1={yy} y2={yy} stroke={e.color} strokeWidth={3.6} strokeDasharray="10,4" />;
        else if (e.kind === "solid") handle = <line x1={c.hx} x2={c.hx + 26} y1={yy} y2={yy} stroke="#808080" strokeWidth={4.5} />;
        else handle = (
          <g stroke="#777" strokeWidth={1.2}>
            <line x1={c.hx - 8} x2={c.hx + 8} y1={yy} y2={yy} />
            <line x1={c.hx} x2={c.hx} y1={yy - 8} y2={yy + 8} />
            <line x1={c.hx + 14} x2={c.hx + 30} y1={yy} y2={yy} />
            <line x1={c.hx + 22} x2={c.hx + 22} y1={yy - 8} y2={yy + 8} />
          </g>
        );
        return (
          <g key={"lg" + i}>
            {handle}
            <text x={c.tx} y={yy} dy="0.35em" fontSize={20}>{e.label}</text>
          </g>
        );
      })}

      {/* title */}
      <text x={154} y={82} fontSize={38}>WASP-62b: JWST Predictions</text>

      {/* frame & ticks */}
      <rect x={L} y={T} width={R - L} height={B - T} fill="none" stroke="#000" strokeWidth={1.6} />
      {xMajor.map((t) => (
        <g key={"xm" + t}>
          <line x1={x(t)} x2={x(t)} y1={B} y2={B - 9} stroke="#000" strokeWidth={1} />
          <line x1={x(t)} x2={x(t)} y1={T} y2={T + 9} stroke="#000" strokeWidth={1} />
          <text x={x(t)} y={B + 30} fontSize={27} textAnchor="middle">{d3.format(".1f")(t)}</text>
        </g>
      ))}
      {xMinor.map((t) => (
        <g key={"xn" + t}>
          <line x1={x(t)} x2={x(t)} y1={B} y2={B - 5} stroke="#000" strokeWidth={1} />
          <line x1={x(t)} x2={x(t)} y1={T} y2={T + 5} stroke="#000" strokeWidth={1} />
        </g>
      ))}
      {yMajor.map((t) => (
        <g key={"ym" + t}>
          <line x1={L} x2={L + 9} y1={y(t)} y2={y(t)} stroke="#000" strokeWidth={1} />
          <text x={L - 9} y={y(t)} dy="0.36em" fontSize={28} textAnchor="end">{d3.format(".2f")(t)}</text>
        </g>
      ))}
      {yMinor.map((t, i) => (
        <g key={"yn" + i}>
          <line x1={L} x2={L + 4} y1={y(t)} y2={y(t)} stroke="#000" strokeWidth={1} />
          <line x1={R} x2={R - 4} y1={y(t)} y2={y(t)} stroke="#000" strokeWidth={1} />
        </g>
      ))}
      {shMajor.map((t) => (
        <g key={"sh" + t}>
          <line x1={R} x2={R - 8} y1={ySH(t)} y2={ySH(t)} stroke="#000" strokeWidth={1} />
          <text x={R + 8} y={ySH(t)} dy="0.36em" fontSize={28}>{String(t)}</text>
        </g>
      ))}
      <text x={130} y={28} fontSize={27}>
        ×10<tspan fontSize={19} dy={-10}>−2</tspan>
      </text>
      <text x={665} y={693} fontSize={38} textAnchor="middle">Wavelength (µm)</text>
      <text transform={`translate(40,326) rotate(-90)`} fontSize={38} textAnchor="middle">
        Transit Depth (<tspan fontStyle="italic">R</tspan>
        <tspan fontSize={26} fontStyle="italic" dy={8}>p</tspan>
        <tspan dy={-8}>/</tspan>
        <tspan fontStyle="italic">R</tspan>
        <tspan fontSize={26} dy={8}>∗</tspan>
        <tspan dy={-8}>)</tspan>
        <tspan fontSize={26} dy={-15}>2</tspan>
      </text>
      <text transform={`translate(1272,326) rotate(-90)`} fontSize={31.5} textAnchor="middle">Scale Heights</text>

      {/* ---------------- posterior panels ---------------- */}
      {panels.map((p, i) => (
        <HistPanel key={"p" + i} p={p} />
      ))}
    </svg>
  );
}
